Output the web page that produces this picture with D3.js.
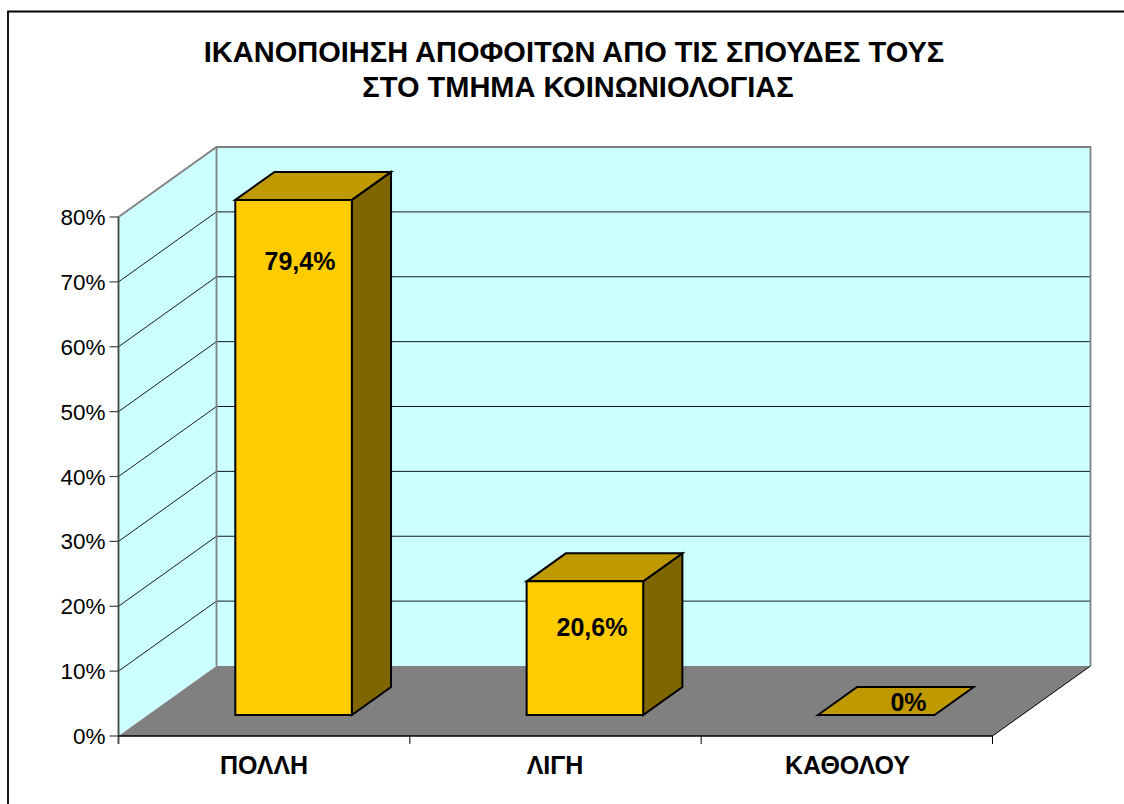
<!DOCTYPE html>
<html><head><meta charset="utf-8">
<script src="https://cdnjs.cloudflare.com/ajax/libs/d3/7.8.5/d3.min.js"></script>
<style>html,body{margin:0;padding:0;background:#fff;overflow:hidden}svg{display:block}text{font-family:"Liberation Sans",Arial,sans-serif}</style>
</head><body>
<script>
const categories = ["ΠΟΛΛΗ", "ΛΙΓΗ", "ΚΑΘΟΛΟΥ"];
const values = [79.4, 20.6, 0];
const valueLabels = ["79,4%", "20,6%", "0%"];
const yTicks = [0, 10, 20, 30, 40, 50, 60, 70, 80];
const titleLines = ["ΙΚΑΝΟΠΟΙΗΣΗ ΑΠΟΦΟΙΤΩΝ ΑΠΟ ΤΙΣ ΣΠΟΥΔΕΣ ΤΟΥΣ", "ΣΤΟ ΤΜΗΜΑ ΚΟΙΝΩΝΙΟΛΟΓΙΑΣ"];

const W = 1124, H = 804;
const x0 = 118.5, x1 = 992.5, yBase = 736, yTop = 217;
const depthX = 98, depthY = -70;
const barFront = 0.3, barBack = 0.7;

const svg = d3.select("body").append("svg").attr("width", W).attr("height", H);
const y = d3.scaleLinear().domain([0, 80]).range([yBase, yTop]);
const x = d3.scaleBand().domain(categories).range([x0, x1]).paddingInner(0.6).paddingOuter(0.3);
// 3-D projection: value position + depth fraction in the chart box
const px = (vx, d) => vx + d * depthX;
const py = (v, d) => y(v) + d * depthY;
const poly = pts => pts.map(p => p.join(",")).join(" ");

// Chart-area border (top and left only)
svg.append("path").attr("d", "M8,804V11.5H1124").attr("fill", "none").attr("stroke", "#000").attr("stroke-width", 1.8);

// Back wall
const xR = px(x1, 1), yT = py(80, 1), yB = py(0, 1);
svg.append("polygon").attr("points", poly([[px(x0, 1), yT], [xR, yT], [xR, yB], [px(x0, 1), yB]])).attr("fill", "#ccffff");
// Side wall
svg.append("polygon").attr("points", poly([[x0, y(80)], [px(x0, 1), yT], [px(x0, 1), yB], [x0, y(0)]])).attr("fill", "#ccffff");
// Floor
svg.append("polygon").attr("points", poly([[x0, y(0)], [px(x0, 1), yB], [xR, yB], [x1, y(0)]])).attr("fill", "#808080");

// Gridlines
const grid = yTicks.filter(t => t > 0 && t < 80);
svg.append("g").selectAll("path").data(grid).join("path")
  .attr("d", t => `M${x0},${y(t)}L${px(x0, 1)},${py(t, 1)}H${xR}`)
  .attr("fill", "none").attr("stroke", "#000").attr("stroke-width", 0.9);

// Wall outlines
svg.append("path").attr("d", `M${x0},${y(80)}L${px(x0, 1)},${yT}H${xR}V${yB}M${px(x0, 1)},${yT}V${yB}`)
  .attr("fill", "none").attr("stroke", "#808080").attr("stroke-width", 1.8);
svg.append("path").attr("d", `M${x1},${y(0)}L${xR},${yB}`).attr("fill", "none").attr("stroke", "#000").attr("stroke-width", 1);

// Bars
const bars = svg.append("g").selectAll("g").data(categories.map((c, i) => ({c, v: values[i], l: valueLabels[i]}))).join("g");
const bw = x.bandwidth();
const L = d => x(d.c);
const facePts = {
  front: d => [[px(L(d), barFront), py(d.v, barFront)], [px(L(d) + bw, barFront), py(d.v, barFront)], [px(L(d) + bw, barFront), py(0, barFront)], [px(L(d), barFront), py(0, barFront)]],
  side: d => [[px(L(d) + bw, barFront), py(d.v, barFront)], [px(L(d) + bw, barBack), py(d.v, barBack)], [px(L(d) + bw, barBack), py(0, barBack)], [px(L(d) + bw, barFront), py(0, barFront)]],
  top: d => [[px(L(d), barFront), py(d.v, barFront)], [px(L(d), barBack), py(d.v, barBack)], [px(L(d) + bw, barBack), py(d.v, barBack)], [px(L(d) + bw, barFront), py(d.v, barFront)]]
};
const faceFill = {front: "#ffcc00", side: "#806600", top: "#bf9900"};
["side", "top", "front"].forEach(f => {
  bars.filter(d => d.v > 0 || f === "top").append("polygon")
    .attr("points", d => poly(facePts[f](d)))
    .attr("fill", faceFill[f]).attr("stroke", "#000").attr("stroke-width", 2).attr("stroke-linejoin", "miter");
});

// Value labels
const labelAt = [[300, 270], [592, 636], [908.5, 711]];
bars.append("text").text(d => d.l)
  .attr("x", (d, i) => labelAt[i][0]).attr("y", (d, i) => labelAt[i][1])
  .attr("text-anchor", "middle").attr("font-size", 25).attr("font-weight", "bold").attr("fill", "#000");

// Axes
const axisY = svg.append("g");
axisY.append("path").attr("d", `M${x0},${y(80)}V${y(0) + 8}`).attr("stroke", "#444").attr("stroke-width", 1.8).attr("fill", "none");
axisY.selectAll("line").data(yTicks).join("line")
  .attr("x1", x0 - 9).attr("x2", x0).attr("y1", d => y(d)).attr("y2", d => y(d))
  .attr("stroke", "#444").attr("stroke-width", 1.2);
axisY.selectAll("text").data(yTicks).join("text").text(d => d + "%")
  .attr("x", x0 - 13).attr("y", d => y(d) + 8).attr("text-anchor", "end")
  .attr("font-size", 22.5).attr("fill", "#000");

const axisX = svg.append("g");
axisX.append("path").attr("d", `M${x0},${y(0)}H${x1}`).attr("stroke", "#000").attr("stroke-width", 1.4);
const step = (x1 - x0) / categories.length;
axisX.selectAll("line").data(d3.range(1, categories.length + 1)).join("line")
  .attr("x1", i => x0 + i * step).attr("x2", i => x0 + i * step).attr("y1", y(0)).attr("y2", y(0) + 8)
  .attr("stroke", "#000").attr("stroke-width", 1);
axisX.selectAll("text").data(categories).join("text").text(d => d)
  .attr("x", (d, i) => [264, 555, 847.5][i]).attr("y", 773.5)
  .attr("text-anchor", "middle").attr("font-size", 25).attr("font-weight", "bold").attr("fill", "#000");

// Title
svg.append("g").selectAll("text").data(titleLines).join("text").text(d => d)
  .attr("x", (d, i) => [574, 578][i]).attr("y", (d, i) => [62, 96.5][i])
  .attr("text-anchor", "middle").attr("font-size", 29).attr("font-weight", "bold").attr("fill", "#000");
</script>
</body></html>
